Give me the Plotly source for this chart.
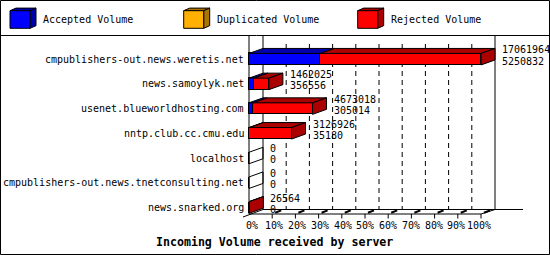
import plotly.graph_objects as go

# ---------------- data ----------------
servers = [
    "cmpublishers-out.news.weretis.net",
    "news.samoylyk.net",
    "usenet.blueworldhosting.com",
    "nntp.club.cc.cmu.edu",
    "localhost",
    "cmpublishers-out.news.tnetconsulting.net",
    "news.snarked.org",
]
total_volume = [17061964, 1462025, 4673018, 3126926, 0, 0, 26564]
accepted_volume = [5250832, 356556, 305014, 35180, 0, 0, 0]
duplicated_volume = [0, 0, 0, 0, 0, 0, 0]
rejected_volume = [t - a - d for t, a, d in zip(total_volume, accepted_volume, duplicated_volume)]
tick_labels = ["0%", "10%", "20%", "30%", "40%", "50%", "60%", "70%", "80%", "90%", "100%"]
series_names = ["Accepted Volume", "Duplicated Volume", "Rejected Volume"]
title_text = "Incoming Volume received by server"

# ---------------- style / geometry ----------------
W, H = 550, 255
FONT = "DejaVu Sans Mono"
front_colors = ["#0000FF", "#FFB000", "#FF0000"]
dark_colors = ["#0000AA", "#AA7500", "#AA0000"]

X0PX, SPAN = 249, 232          # pixel of 0 and length of 100%
ROW0, PITCH = 59.2, 24.7       # first row centre and row pitch (px)
DXPX, DYPX = 14, 5             # 3D depth (px)
BARH = 11.5                    # front face height (px)

M = max(total_volume)
u = M / SPAN


def xd(px):
    return (px - X0PX) * u


def yd(py):
    return (py - ROW0) / PITCH


dx = DXPX * u
dy = DYPX / PITCH
bw = BARH / PITCH
rows = list(range(len(servers)))

fig = go.Figure()
series_vals = [accepted_volume, duplicated_volume, rejected_volume]
for name, vals, col in zip(series_names, series_vals, front_colors):
    fig.add_trace(go.Bar(
        y=rows, x=vals, orientation="h", width=bw, name=name,
        marker=dict(color=col, line=dict(color="black", width=1)),
        showlegend=False, hoverinfo="skip",
    ))

shapes = []
annotations = []

def line(x0, y0, x1, y1, width=1, dash=None, layer="below"):
    d = dict(type="line", xref="x", yref="y", x0=x0, y0=y0, x1=x1, y1=y1,
             line=dict(color="black", width=width), layer=layer)
    if dash:
        d["line"]["dash"] = dash
    shapes.append(d)

def ppath(pts):
    return "M " + " L ".join(f"{x},{y}" for x, y in pts) + " Z"

# back wall verticals and grid
TOPPX, BACKPX, FRONTPX = 36, 209.5, 214
line(xd(X0PX + DXPX), yd(TOPPX), xd(X0PX + DXPX), yd(BACKPX))
line(xd(X0PX + SPAN + DXPX), yd(TOPPX), xd(X0PX + SPAN + DXPX), yd(BACKPX))
line(0, yd(TOPPX), 0, yd(FRONTPX))
for k in range(1, 10):
    xv = k * M / 10 + dx
    line(xv, yd(44), xv, yd(BACKPX), dash="5px,4px")
# floor
line(0, yd(FRONTPX), M, yd(FRONTPX))
line(M, yd(FRONTPX), M + dx, yd(BACKPX))
line(xd(X0PX + DXPX), yd(BACKPX), xd(523), yd(BACKPX))
line(xd(X0PX + DXPX), yd(BACKPX), xd(243), yd(BACKPX + 7.5))
# ticks
for k in range(1, 11):
    xf = k * M / 10
    line(xf, yd(FRONTPX), xf, yd(FRONTPX + 4.5))
    line(xf + 3 * u, yd(FRONTPX - 1.2), xf + 9 * u, yd(FRONTPX - 3.6), width=2)

# 3D faces of bars
for i in rows:
    yt, yb = i - bw / 2, i + bw / 2
    base = 0
    last_dark = None
    for vals, dcol in zip(series_vals, dark_colors):
        v = vals[i]
        if v > 0:
            shapes.append(dict(type="path", xref="x", yref="y", layer="above",
                               path=ppath([(base, yt), (base + v, yt), (base + v + dx, yt - dy), (base + dx, yt - dy)]),
                               fillcolor=dcol, line=dict(color="black", width=1)))
            base += v
            last_dark = dcol
    shapes.append(dict(type="path", xref="x", yref="y", layer="above",
                       path=ppath([(base, yt), (base + dx, yt - dy), (base + dx, yb - dy), (base, yb)]),
                       fillcolor=last_dark if last_dark else "rgba(0,0,0,0)",
                       line=dict(color="black", width=1)))
    # value labels
    for txt, off in ((total_volume[i], -9.3 / PITCH), (accepted_volume[i], 1.8 / PITCH)):
        annotations.append(dict(x=total_volume[i], y=i + off, xref="x", yref="y",
                                text=str(txt), showarrow=False, xanchor="left", yanchor="middle",
                                xshift=DXPX + 5, font=dict(family=FONT, size=10, color="black")))
    # category label
    annotations.append(dict(x=0, y=i, xref="x", yref="y", text=servers[i], showarrow=False,
                            xanchor="right", yanchor="middle", xshift=-3,
                            font=dict(family=FONT, size=10, color="black")))

# tick labels
for k, t in enumerate(tick_labels):
    annotations.append(dict(x=k * M / 10, y=yd(225.5), xref="x", yref="y", text=t, showarrow=False,
                            xanchor="center", yanchor="middle", xshift=2.5 - 0.45 * k,
                            font=dict(family=FONT, size=10, color="black")))

# title
annotations.append(dict(x=(274) / W, y=1 - 242 / H, xref="paper", yref="paper", text=f"<b>{title_text}</b>",
                        showarrow=False, xanchor="center", yanchor="middle",
                        font=dict(family=FONT, size=11.6, color="black")))

# legend
def px_(x):
    return x / W

def py_(y):
    return 1 - y / H

legend_x = [10, 183.7, 357.7]
for lx, name, fc, dc in zip(legend_x, series_names, front_colors, dark_colors):
    x0, x1, y0, y1 = lx, lx + 20, 10.7, 28.3
    ldx, ldy = 6, 2.6
    shapes.append(dict(type="path", xref="paper", yref="paper",
                       path=ppath([(px_(x0), py_(y0)), (px_(x1), py_(y0)), (px_(x1 + ldx), py_(y0 - ldy)), (px_(x0 + ldx), py_(y0 - ldy))]),
                       fillcolor=dc, line=dict(color="black", width=1)))
    shapes.append(dict(type="path", xref="paper", yref="paper",
                       path=ppath([(px_(x1), py_(y0)), (px_(x1 + ldx), py_(y0 - ldy)), (px_(x1 + ldx), py_(y1 - ldy)), (px_(x1), py_(y1))]),
                       fillcolor=dc, line=dict(color="black", width=1)))
    shapes.append(dict(type="rect", xref="paper", yref="paper",
                       x0=px_(x0), x1=px_(x1), y0=py_(y1), y1=py_(y0),
                       fillcolor=fc, line=dict(color="black", width=1)))
    annotations.append(dict(x=px_(x1 + 11), y=py_(20), xref="paper", yref="paper", text=name,
                            showarrow=False, xanchor="left", yanchor="middle",
                            font=dict(family=FONT, size=10, color="black")))

# separator and border
shapes.append(dict(type="line", xref="paper", yref="paper", x0=0, x1=1, y0=py_(35.5), y1=py_(35.5),
                   line=dict(color="black", width=1)))
shapes.append(dict(type="rect", xref="paper", yref="paper", x0=px_(0.5), x1=px_(549.5), y0=py_(254.5), y1=py_(0.5),
                   line=dict(color="black", width=1), fillcolor="rgba(0,0,0,0)"))

fig.update_layout(
    width=W, height=H, margin=dict(l=0, r=0, t=0, b=0),
    barmode="stack", bargap=0,
    paper_bgcolor="white", plot_bgcolor="white",
    xaxis=dict(range=[xd(0), xd(W)], visible=False, fixedrange=True),
    yaxis=dict(range=[yd(H), yd(0)], visible=False, fixedrange=True),
    shapes=shapes, annotations=annotations, showlegend=False,
)
fig.write_html("out.html")
